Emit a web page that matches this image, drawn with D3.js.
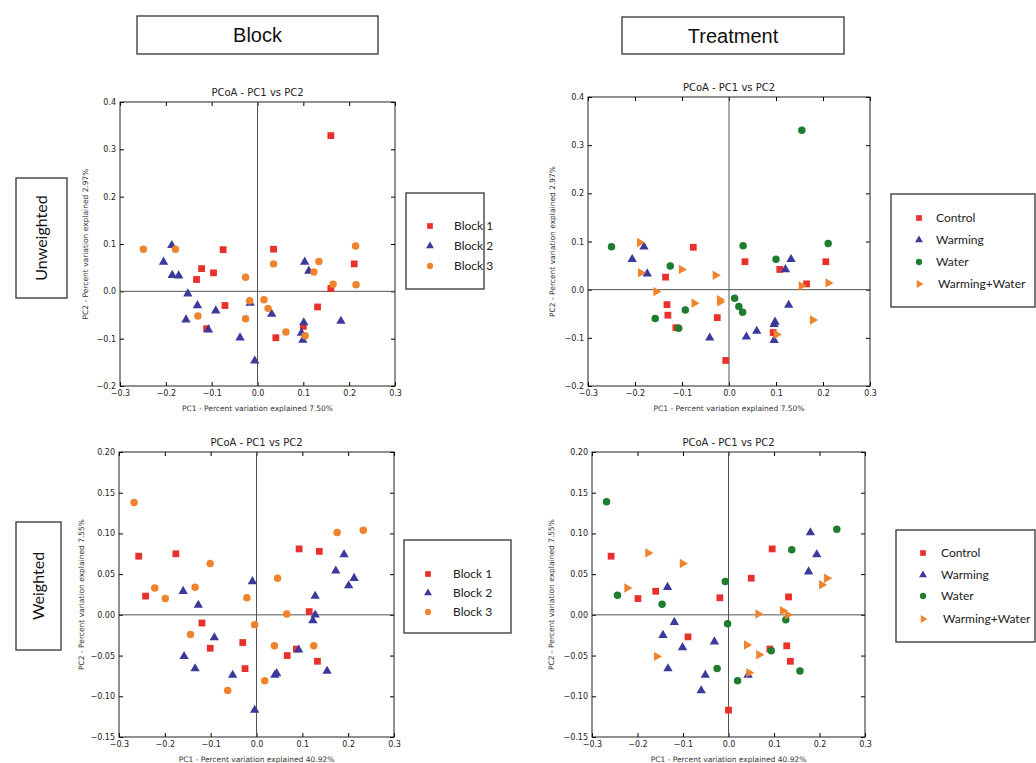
<!DOCTYPE html>
<html>
<head>
<meta charset="utf-8">
<script src="https://cdn.jsdelivr.net/npm/d3@7"></script>
<style>
  body { margin: 0; background: #fff; }
  svg { display: block; }
</style>
</head>
<body>
<div id="chart"></div>
<script>
// PCoA coordinates [PC1, PC2]

// unweighted UniFrac, coloured by block
const unweightedBlock1 = [[-0.075, 0.088], [0.035, 0.089], [0.160, 0.329], [-0.122, 0.048], [-0.096, 0.039], [-0.133, 0.025], [0.211, 0.058], [0.160, 0.006], [-0.071, -0.030], [0.131, -0.033], [-0.111, -0.079], [0.040, -0.098], [0.100, -0.074]];
const unweightedBlock2 = [[-0.187, 0.097], [-0.205, 0.062], [-0.186, 0.034], [-0.172, 0.033], [-0.152, -0.005], [-0.131, -0.030], [-0.156, -0.060], [-0.091, -0.041], [-0.107, -0.081], [-0.038, -0.098], [-0.006, -0.147], [-0.016, -0.025], [0.031, -0.048], [0.103, 0.062], [0.112, 0.043], [0.101, -0.066], [0.096, -0.088], [0.099, -0.103], [0.182, -0.063]];
const unweightedBlock3 = [[-0.249, 0.089], [-0.179, 0.089], [-0.026, 0.030], [0.035, 0.058], [0.134, 0.063], [0.123, 0.041], [0.165, 0.015], [0.214, 0.096], [0.215, 0.014], [-0.017, -0.020], [0.014, -0.018], [0.023, -0.036], [-0.026, -0.058], [-0.130, -0.052], [0.062, -0.086], [0.104, -0.094]];

// unweighted UniFrac, coloured by treatment
const unweightedControl = [[-0.076, 0.088], [0.034, 0.058], [0.108, 0.042], [0.206, 0.058], [0.165, 0.012], [-0.135, 0.026], [-0.132, -0.031], [-0.130, -0.053], [-0.113, -0.079], [-0.025, -0.058], [0.094, -0.089], [-0.007, -0.147]];
const unweightedWarming = [[-0.181, 0.089], [-0.206, 0.063], [-0.174, 0.033], [0.132, 0.063], [0.120, 0.042], [0.127, -0.032], [0.098, -0.067], [0.096, -0.072], [0.096, -0.105], [0.059, -0.086], [0.037, -0.098], [-0.041, -0.100]];
const unweightedWater = [[-0.250, 0.089], [-0.125, 0.049], [-0.157, -0.060], [-0.093, -0.042], [-0.107, -0.080], [0.030, 0.091], [0.100, 0.063], [0.155, 0.331], [0.211, 0.096], [0.012, -0.018], [0.021, -0.035], [0.029, -0.047]];
const unweightedWarmingWater = [[-0.190, 0.098], [-0.188, 0.035], [-0.101, 0.042], [-0.029, 0.030], [-0.155, -0.004], [-0.074, -0.028], [-0.020, -0.021], [-0.019, -0.025], [0.154, 0.008], [0.211, 0.014], [0.178, -0.063], [0.101, -0.093]];

// weighted UniFrac, coloured by block
const weightedBlock1 = [[-0.257, 0.072], [-0.242, 0.023], [-0.176, 0.075], [-0.119, -0.010], [-0.101, -0.041], [-0.030, -0.034], [-0.025, -0.066], [0.067, -0.050], [0.087, -0.042], [0.093, 0.081], [0.137, 0.078], [0.115, 0.004], [0.133, -0.057]];
const weightedBlock2 = [[-0.160, 0.029], [-0.127, 0.012], [-0.158, -0.051], [-0.134, -0.066], [-0.092, -0.028], [-0.052, -0.074], [-0.009, 0.041], [-0.004, -0.117], [0.040, -0.074], [0.044, -0.072], [0.092, -0.043], [0.128, 0.023], [0.123, -0.007], [0.128, 0.000], [0.154, -0.069], [0.173, 0.054], [0.191, 0.074], [0.201, 0.036], [0.213, 0.045]];
const weightedBlock3 = [[-0.267, 0.138], [-0.222, 0.033], [-0.199, 0.020], [-0.101, 0.063], [-0.134, 0.034], [-0.144, -0.024], [-0.063, -0.093], [-0.021, 0.021], [-0.004, -0.012], [0.018, -0.081], [0.039, -0.038], [0.046, 0.045], [0.066, 0.001], [0.125, -0.038], [0.176, 0.101], [0.233, 0.104]];

// weighted UniFrac, coloured by treatment
const weightedControl = [[-0.258, 0.072], [-0.199, 0.020], [-0.160, 0.029], [-0.089, -0.027], [-0.019, 0.021], [0.050, 0.045], [0.096, 0.081], [0.132, 0.022], [0.091, -0.042], [0.128, -0.038], [0.136, -0.057], [0.000, -0.117]];
const weightedWarming = [[-0.134, 0.034], [-0.119, -0.009], [-0.144, -0.025], [-0.101, -0.040], [-0.133, -0.066], [-0.031, -0.033], [-0.051, -0.074], [-0.060, -0.093], [0.043, -0.074], [0.180, 0.101], [0.194, 0.074], [0.176, 0.053]];
const weightedWater = [[-0.268, 0.139], [-0.244, 0.024], [-0.146, 0.013], [-0.007, 0.041], [-0.002, -0.011], [-0.025, -0.066], [0.020, -0.081], [0.094, -0.044], [0.126, -0.006], [0.139, 0.080], [0.157, -0.069], [0.238, 0.105]];
const weightedWarmingWater = [[-0.177, 0.076], [-0.101, 0.063], [-0.223, 0.033], [-0.158, -0.051], [0.040, -0.037], [0.065, 0.001], [0.067, -0.049], [0.045, -0.071], [0.119, 0.005], [0.130, 0.000], [0.205, 0.037], [0.216, 0.045]];

const blockNames = ['Block 1', 'Block 2', 'Block 3'];
const treatmentNames = ['Control', 'Warming', 'Water', 'Warming+Water'];

const xTicks = [-0.3, -0.2, -0.1, 0, 0.1, 0.2, 0.3];
const yTicksUnweighted = [-0.2, -0.1, 0, 0.1, 0.2, 0.3, 0.4];
const yTicksWeighted = [-0.15, -0.1, -0.05, 0, 0.05, 0.1, 0.15, 0.2];

const xLabelUnweighted = 'PC1 - Percent variation explained 7.50%';
const yLabelUnweighted = 'PC2 - Percent variation explained 2.97%';
const xLabelWeighted = 'PC1 - Percent variation explained 40.92%';
const yLabelWeighted = 'PC2 - Percent variation explained 7.55%';

const colors = {
  red: '#e8302c',
  blue: '#3b3a9c',
  orange: '#f0842e',
  green: '#1e7d2e',
};

const markers = {
  square: { type: d3.symbolSquare, size: 46, rotate: 0 },
  triangle: { type: d3.symbolTriangle, size: 38, rotate: 0 },
  circle: { type: d3.symbolCircle, size: 44, rotate: 0 },
  right: { type: d3.symbolTriangle, size: 38, rotate: 90 },
};

const blockStyles = [
  { marker: 'square', color: colors.red },
  { marker: 'triangle', color: colors.blue },
  { marker: 'circle', color: colors.orange },
];
const treatmentStyles = [
  { marker: 'square', color: colors.red },
  { marker: 'triangle', color: colors.blue },
  { marker: 'circle', color: colors.green },
  { marker: 'right', color: colors.orange },
];

const svg = d3
  .select('#chart')
  .append('svg')
  .attr('width', 1036)
  .attr('height', 763);

// legend keys are drawn a bit smaller than the plotted points
const drawSymbol = (g, style, cx, cy) => {
  const m = markers[style.marker];
  g.append('path')
    .attr('d', d3.symbol().type(m.type).size(m.size * 0.7)())
    .attr('transform', `translate(${cx},${cy}) rotate(${m.rotate})`)
    .attr('fill', style.color);
};

const makePanel = (cfg) => {
  const x = d3.scaleLinear().domain([-0.3, 0.3]).range([cfg.left, cfg.right]);
  const y = d3.scaleLinear().domain(cfg.yDomain).range([cfg.bottom, cfg.top]);
  const g = svg.append('g');

  const tickStyle = (sel) => {
    sel.select('.domain').remove();
    sel.selectAll('line').attr('stroke', '#000');
    sel.selectAll('text')
      .attr('fill', '#222')
      .style('font-family', 'DejaVu Sans')
      .style('font-size', '8px');
  };

  g.append('g')
    .attr('transform', `translate(0,${cfg.bottom})`)
    .call(d3.axisBottom(x).tickValues(xTicks).tickFormat(d3.format('.1f')).tickSize(-4).tickPadding(4))
    .call(tickStyle);
  g.append('g')
    .attr('transform', `translate(0,${cfg.top})`)
    .call(d3.axisTop(x).tickValues(xTicks).tickFormat('').tickSize(-4))
    .call(tickStyle);
  g.append('g')
    .attr('transform', `translate(${cfg.left},0)`)
    .call(d3.axisLeft(y).tickValues(cfg.yTicks).tickFormat(d3.format(cfg.yFormat)).tickSize(-4).tickPadding(4))
    .call(tickStyle);
  g.append('g')
    .attr('transform', `translate(${cfg.right},0)`)
    .call(d3.axisRight(y).tickValues(cfg.yTicks).tickFormat('').tickSize(-4))
    .call(tickStyle);

  // zero lines
  g.append('line')
    .attr('x1', x(0)).attr('x2', x(0))
    .attr('y1', cfg.top).attr('y2', cfg.bottom)
    .attr('stroke', '#555');
  g.append('line')
    .attr('x1', cfg.left).attr('x2', cfg.right)
    .attr('y1', y(0)).attr('y2', y(0))
    .attr('stroke', '#555');

  g.append('rect')
    .attr('x', cfg.left)
    .attr('y', cfg.top)
    .attr('width', cfg.right - cfg.left)
    .attr('height', cfg.bottom - cfg.top)
    .attr('fill', 'none')
    .attr('stroke', '#222');

  cfg.series.forEach((pts, i) => {
    const m = markers[cfg.styles[i].marker];
    g.append('g')
      .selectAll('path')
      .data(pts)
      .enter()
      .append('path')
      .attr('d', d3.symbol().type(m.type).size(m.size)())
      .attr('transform', (d) => `translate(${x(d[0])},${y(d[1])}) rotate(${m.rotate})`)
      .attr('fill', cfg.styles[i].color);
  });

  g.append('text')
    .attr('x', (cfg.left + cfg.right) / 2)
    .attr('y', cfg.top - 6)
    .attr('text-anchor', 'middle')
    .style('font-family', 'DejaVu Sans')
    .style('font-size', '10px')
    .attr('fill', '#222')
    .text('PCoA - PC1 vs PC2');

  g.append('text')
    .attr('x', (cfg.left + cfg.right) / 2)
    .attr('y', cfg.bottom + 25)
    .attr('text-anchor', 'middle')
    .style('font-family', 'DejaVu Sans')
    .style('font-size', '7.5px')
    .attr('fill', '#333')
    .text(cfg.xLabel);

  const cy = (cfg.top + cfg.bottom) / 2;
  g.append('text')
    .attr('transform', `translate(${cfg.yLabelX},${cy}) rotate(-90)`)
    .attr('text-anchor', 'middle')
    .attr('dy', '0.35em')
    .style('font-family', 'DejaVu Sans')
    .style('font-size', '7.5px')
    .attr('fill', '#333')
    .text(cfg.yLabel);

  // legend box
  const lg = cfg.legend;
  g.append('rect')
    .attr('x', lg.x)
    .attr('y', lg.y)
    .attr('width', lg.w)
    .attr('height', lg.h)
    .attr('fill', '#fff')
    .attr('stroke', '#333')
    .attr('stroke-width', 1.3);
  cfg.names.forEach((name, i) => {
    const ry = lg.rows[i];
    drawSymbol(g, cfg.styles[i], lg.markerX, ry);
    g.append('text')
      .attr('x', lg.textX + (name === 'Warming+Water' ? 2 : 0))
      .attr('y', ry)
      .attr('dy', '0.35em')
      .style('font-family', 'Lato')
      .style('font-size', '12px')
      .attr('fill', '#222')
      .text(name);
  });
};

makePanel({
  left: 120, right: 395, top: 102, bottom: 386,
  yDomain: [-0.2, 0.4], yTicks: yTicksUnweighted, yFormat: '.1f',
  xLabel: xLabelUnweighted, yLabel: yLabelUnweighted, yLabelX: 85,
  series: [unweightedBlock1, unweightedBlock2, unweightedBlock3],
  styles: blockStyles, names: blockNames,
  legend: { x: 406, y: 193, w: 78, h: 96, markerX: 430, textX: 454, rows: [226, 246, 266] },
});

makePanel({
  left: 588, right: 870, top: 97, bottom: 386,
  yDomain: [-0.2, 0.4], yTicks: yTicksUnweighted, yFormat: '.1f',
  xLabel: xLabelUnweighted, yLabel: yLabelUnweighted, yLabelX: 552,
  series: [unweightedControl, unweightedWarming, unweightedWater, unweightedWarmingWater],
  styles: treatmentStyles, names: treatmentNames,
  legend: { x: 891, y: 194, w: 144, h: 113, markerX: 919, textX: 936, rows: [218, 240, 262, 284] },
});

makePanel({
  left: 119, right: 394, top: 452, bottom: 737,
  yDomain: [-0.15, 0.2], yTicks: yTicksWeighted, yFormat: '.2f',
  xLabel: xLabelWeighted, yLabel: yLabelWeighted, yLabelX: 81,
  series: [weightedBlock1, weightedBlock2, weightedBlock3],
  styles: blockStyles, names: blockNames,
  legend: { x: 404, y: 540, w: 107, h: 93, markerX: 428, textX: 453, rows: [574, 593, 612] },
});

makePanel({
  left: 592, right: 865, top: 452, bottom: 737,
  yDomain: [-0.15, 0.2], yTicks: yTicksWeighted, yFormat: '.2f',
  xLabel: xLabelWeighted, yLabel: yLabelWeighted, yLabelX: 551,
  series: [weightedControl, weightedWarming, weightedWater, weightedWarmingWater],
  styles: treatmentStyles, names: treatmentNames,
  legend: { x: 896, y: 530, w: 139, h: 112, markerX: 923, textX: 941, rows: [553, 575, 596, 619] },
});

// header and row label boxes
const headers = [
  { text: 'Block', x: 137, y: 16, w: 241, h: 38 },
  { text: 'Treatment', x: 622, y: 17, w: 222, h: 37 },
];
headers.forEach((h) => {
  svg.append('rect')
    .attr('x', h.x).attr('y', h.y)
    .attr('width', h.w).attr('height', h.h)
    .attr('fill', '#fff')
    .attr('stroke', '#333')
    .attr('stroke-width', 1.3);
  svg.append('text')
    .attr('x', h.x + h.w / 2)
    .attr('y', h.y + h.h / 2)
    .attr('dy', '0.35em')
    .attr('text-anchor', 'middle')
    .style('font-family', 'Liberation Sans')
    .style('font-size', '20px')
    .attr('fill', '#111')
    .text(h.text);
});

const rowLabels = [
  { text: 'Unweighted', x: 16, y: 178, w: 51, h: 120 },
  { text: 'Weighted', x: 16, y: 522, w: 45, h: 128 },
];
rowLabels.forEach((r) => {
  svg.append('rect')
    .attr('x', r.x).attr('y', r.y)
    .attr('width', r.w).attr('height', r.h)
    .attr('fill', '#fff')
    .attr('stroke', '#333')
    .attr('stroke-width', 1.3);
  svg.append('text')
    .attr('transform', `translate(${r.x + r.w / 2},${r.y + r.h / 2}) rotate(-90)`)
    .attr('dy', '0.35em')
    .attr('text-anchor', 'middle')
    .style('font-family', 'Lato')
    .style('font-size', '16px')
    .attr('fill', '#111')
    .text(r.text);
});
</script>
</body>
</html>
